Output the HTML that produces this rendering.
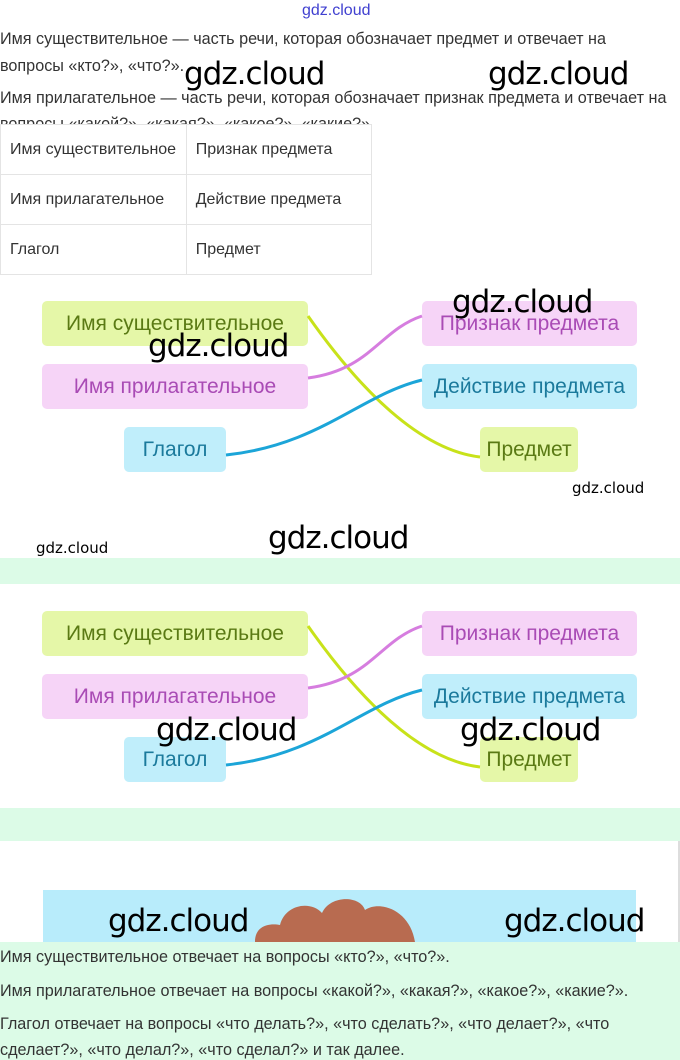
<!DOCTYPE html>
<html><head><meta charset="utf-8"><style>
*{margin:0;padding:0;box-sizing:border-box}
body{width:680px;height:1060px;position:relative;overflow:hidden;background:#fff;font-family:"Liberation Sans","DejaVu Sans",sans-serif;color:#333}
.a{position:absolute}
.p{font-size:16.2px;color:#333;white-space:nowrap}
.wm{position:absolute;font-family:"DejaVu Sans","Liberation Sans",sans-serif;font-size:31px;color:#000;letter-spacing:-1px;white-space:nowrap}
.ws{position:absolute;font-family:"DejaVu Sans","Liberation Sans",sans-serif;font-size:15px;color:#000;white-space:nowrap}
table{border-collapse:collapse;position:absolute;left:0;top:124px;width:372px}
td{border:1px solid #e4e4e4;height:50px;font-size:16px;color:#333;padding-left:9px;width:186px}
.b{position:absolute;height:45px;border-radius:5px;font-size:21px;display:flex;align-items:center;justify-content:center;white-space:nowrap}
.g{background:#e5f7a8;color:#5a7a14}
.pk{background:#f6d4f7;color:#a94bb5}
.bl{background:#c0eefb;color:#1b7a9c}
</style></head><body>
<div class="a" style="left:302px;top:2px;font-size:16px;color:#4040d0">gdz.cloud</div>
<div class="a p" style="left:0;top:30px">Имя существительное — часть речи, которая обозначает предмет и отвечает на</div>
<div class="a p" style="left:0;top:57px">вопросы «кто?», «что?».</div>
<div class="a p" style="left:0;top:89px">Имя прилагательное — часть речи, которая обозначает признак предмета и отвечает на</div>
<div class="a p" style="left:0;top:115px;height:10px;overflow:hidden">вопросы «какой?», «какая?», «какое?», «какие?».</div>
<table><tr><td>Имя существительное</td><td>Признак предмета</td></tr><tr><td>Имя прилагательное</td><td>Действие предмета</td></tr><tr><td>Глагол</td><td>Предмет</td></tr></table>

<div class="a" style="left:0;top:0;width:680px;height:520px">
<div class="b g" style="left:42px;top:301px;width:266px">Имя существительное</div>
<div class="b pk" style="left:42px;top:364px;width:266px">Имя прилагательное</div>
<div class="b bl" style="left:124px;top:427px;width:102px">Глагол</div>
<div class="b pk" style="left:422px;top:301px;width:215px">Признак предмета</div>
<div class="b bl" style="left:422px;top:364px;width:215px">Действие предмета</div>
<div class="b g" style="left:480px;top:427px;width:98px">Предмет</div>
<svg class="a" style="left:0;top:0" width="680" height="520"><g fill="none" stroke-width="3">
<path d="M308 316 C360 390 420 450 480 457" stroke="#c8e21a"/>
<path d="M308 378 C370 370 380 330 422 316" stroke="#d67ddf"/>
<path d="M226 455 C320 445 360 395 422 380" stroke="#1ca5d8"/>
</g></svg>
</div>
<div class="a" style="left:0;top:310px;width:680px;height:520px">
<div class="b g" style="left:42px;top:301px;width:266px">Имя существительное</div>
<div class="b pk" style="left:42px;top:364px;width:266px">Имя прилагательное</div>
<div class="b bl" style="left:124px;top:427px;width:102px">Глагол</div>
<div class="b pk" style="left:422px;top:301px;width:215px">Признак предмета</div>
<div class="b bl" style="left:422px;top:364px;width:215px">Действие предмета</div>
<div class="b g" style="left:480px;top:427px;width:98px">Предмет</div>
<svg class="a" style="left:0;top:0" width="680" height="520"><g fill="none" stroke-width="3">
<path d="M308 316 C360 390 420 450 480 457" stroke="#c8e21a"/>
<path d="M308 378 C370 370 380 330 422 316" stroke="#d67ddf"/>
<path d="M226 455 C320 445 360 395 422 380" stroke="#1ca5d8"/>
</g></svg>
</div>

<div class="a" style="left:0;top:558px;width:680px;height:26px;background:#dcfbe7"></div>
<div class="a" style="left:0;top:808px;width:680px;height:33px;background:#dcfbe7"></div>
<div class="a" style="left:678px;top:841px;width:2px;height:101px;background:#ddd"></div>
<div class="a" style="left:43px;top:890px;width:593px;height:52px;background:#b8ecfb"></div>
<svg class="a" style="left:250px;top:895px" width="180" height="47"><path d="M5 47 C5 30 20 28 30 30 C35 10 60 5 72 18 C80 0 110 0 115 15 C130 5 160 15 165 47 Z" fill="#b86b50"/></svg>
<div class="a" style="left:0;top:942px;width:680px;height:118px;background:#dcfbe7"></div>
<div class="a p" style="left:0;top:948px">Имя существительное отвечает на вопросы «кто?», «что?».</div>
<div class="a p" style="left:0;top:982px">Имя прилагательное отвечает на вопросы «какой?», «какая?», «какое?», «какие?».</div>
<div class="a p" style="left:0;top:1015px">Глагол отвечает на вопросы «что делать?», «что сделать?», «что делает?», «что</div>
<div class="a p" style="left:0;top:1041px">сделает?», «что делал?», «что сделал?» и так далее.</div>

<div class="wm" style="left:184px;top:56px">gdz.cloud</div>
<div class="wm" style="left:488px;top:56px">gdz.cloud</div>
<div class="wm" style="left:452px;top:284px">gdz.cloud</div>
<div class="wm" style="left:148px;top:328px">gdz.cloud</div>
<div class="ws" style="left:572px;top:479px">gdz.cloud</div>
<div class="ws" style="left:36px;top:539px">gdz.cloud</div>
<div class="wm" style="left:268px;top:520px">gdz.cloud</div>
<div class="wm" style="left:156px;top:712px">gdz.cloud</div>
<div class="wm" style="left:460px;top:712px">gdz.cloud</div>
<div class="wm" style="left:108px;top:903px">gdz.cloud</div>
<div class="wm" style="left:504px;top:903px">gdz.cloud</div>
</body></html>
